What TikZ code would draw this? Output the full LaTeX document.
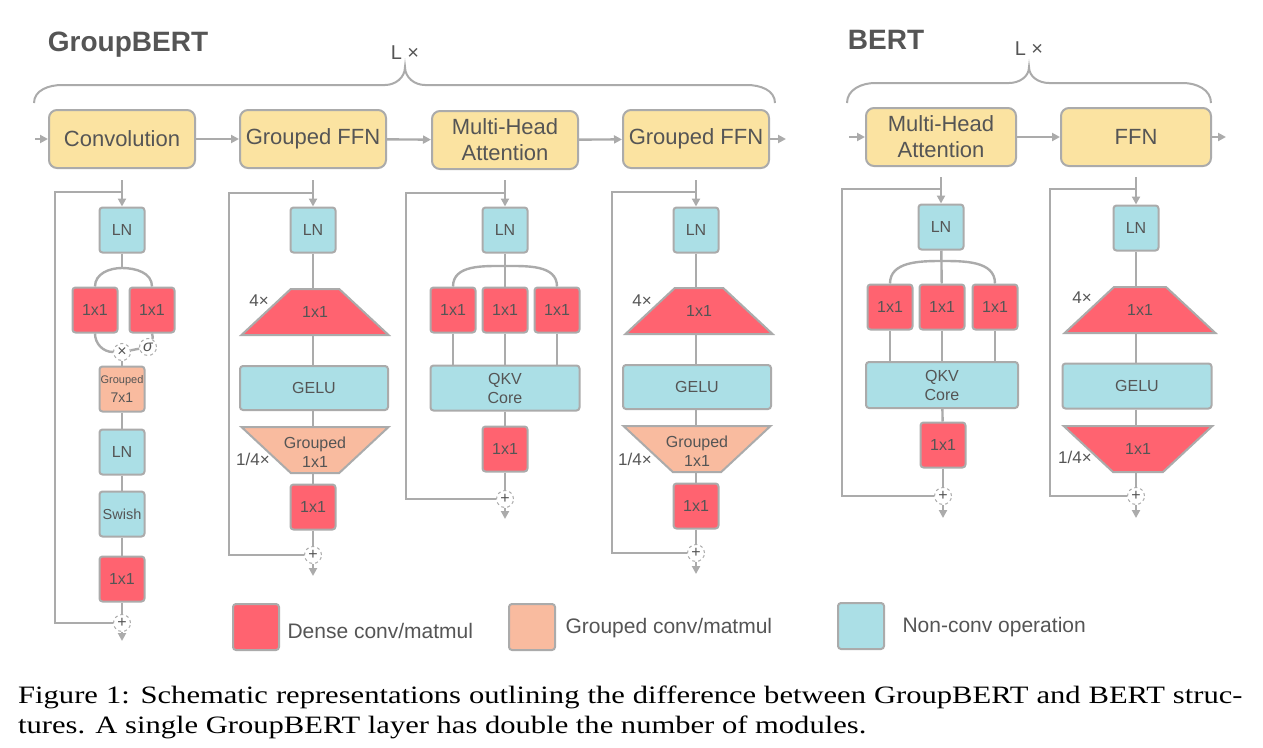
\documentclass[tikz,border=0pt]{standalone}
\usepackage{fontspec}
\setmainfont{Liberation Sans}
\newfontfamily\capfont{Liberation Serif}
\usetikzlibrary{positioning,shapes.geometric,arrows.meta,calc}

\definecolor{densered}{HTML}{FF6370}
\definecolor{grouppeach}{HTML}{F9BB9F}
\definecolor{plainblue}{HTML}{ABDFE6}
\definecolor{topyellow}{HTML}{FBE3A1}
\definecolor{linegray}{HTML}{ABABAB}
\definecolor{textgray}{HTML}{555555}

\newcommand\zw[1]{\makebox[0pt]{#1}}

\tikzset{
  wire/.style={draw=linegray, line width=2.4pt},
  arr/.style={wire, -{Triangle[length=8pt,width=8pt]}},
  topbox/.style={draw=linegray, line width=2pt, fill=topyellow, rounded corners=8pt,
    minimum width=146pt, minimum height=58pt, align=center, text=textgray,
    font=\fontsize{22}{26}\selectfont},
  opbox/.style={draw=linegray, line width=2pt, rounded corners=3pt, minimum width=45pt,
    minimum height=45pt, inner sep=0pt, align=center, text=textgray,
    font=\fontsize{16}{19}\selectfont},
  densebox/.style={opbox, fill=densered},
  groupbox/.style={opbox, fill=grouppeach},
  plainbox/.style={opbox, fill=plainblue},
  widebox/.style={minimum width=148pt},
  upbox/.style={trapezium, trapezium angle=43, draw=linegray, line width=2pt,
    inner xsep=24.2pt, inner ysep=17.25pt, text height=11.5pt, text depth=0pt,
    align=center, text=textgray, font=\fontsize{16}{19}\selectfont},
  downbox/.style={upbox, shape border rotate=180},
  twoline/.style={inner ysep=6pt, text height=34pt},
  junc/.style={circle, draw=linegray, dashed, line width=1pt, fill=white,
    minimum size=17pt, inner sep=0pt, text=textgray, font=\fontsize{16}{16}\selectfont},
  factor/.style={text=textgray, font=\fontsize{17}{17}\selectfont},
  title/.style={text=textgray, font=\fontsize{28}{30}\selectfont\bfseries},
  times/.style={text=textgray, font=\fontsize{20}{22}\selectfont},
  legtext/.style={text=textgray, font=\fontsize{21}{24}\selectfont, anchor=west},
  capline/.style={anchor=base west, inner sep=0pt, font=\capfont\fontsize{25}{30}\selectfont}
}

\begin{document}
\begin{tikzpicture}[x=1pt,y=-1pt]
  \useasboundingbox[fill=white] (0,0) rectangle (1263,747);

  % titles and braces
  \node[title] (gbert) at (128,45) {GroupBERT};
  \node[title] (bert) at (886,40) {BERT};
  \node[times] (rep1) at (405,53) {L ×};
  \node[times] (rep2) at (1029,49) {L ×};
  \draw[draw=linegray, line width=2pt] (34,103) to[out=90,in=180] (62,85) -- (385,85)
    to[out=0,in=-90] (405,67) to[out=-90,in=180] (425,85) -- (747,85)
    to[out=0,in=90] (775,103);
  \draw[draw=linegray, line width=2pt] (847,103) to[out=90,in=180] (875,83) -- (1009,83)
    to[out=0,in=-90] (1029,67) to[out=-90,in=180] (1049,83) -- (1183,83)
    to[out=0,in=90] (1211,103);

  % top row
  \coordinate (in1) at (35,139);
  \node[topbox] (conv) at (122,139) {Convolution};
  \node[topbox] (gffn1) at (313,139) {Grouped FFN};
  \node[topbox] (mha1) at (505,140) {Multi-Head\\Attention};
  \node[topbox] (gffn2) at (696,139) {Grouped FFN};
  \coordinate (out1) at (786,139);
  \draw[arr] (in1) -- (conv);
  \draw[arr] (conv) -- (gffn1);
  \draw[arr] (gffn1) -- (mha1);
  \draw[arr] (mha1) -- (gffn2);
  \draw[arr] (gffn2) -- (out1);

  \coordinate (in2) at (849,137);
  \node[topbox, minimum width=150pt] (mha2) at (941,137) {Multi-Head\\Attention};
  \node[topbox, minimum width=150pt] (ffn) at (1136,137) {FFN};
  \coordinate (out2) at (1226,137);
  \draw[arr] (in2) -- (mha2);
  \draw[arr] (mha2) -- (ffn);
  \draw[arr] (ffn) -- (out2);

  % convolution module
  \coordinate (t1) at (122,180);
  \coordinate (j1) at (122,192);
  \coordinate (k1) at (55,623);
  \coordinate (s1) at (122,268);
  \coordinate (e1) at (122,641);
  \node[plainbox] (ln1) at (122,230) {LN};
  \node[densebox] (ga1) at (95,310) {1x1};
  \node[densebox] (gb1) at (152,310) {1x1};
  \node[junc] (mul1) at (122,352) {×};
  \node[junc] (sig1) at (148,347) {\itshape σ};
  \node[groupbox] (gc1) at (122,389) {{\fontsize{11}{13}\selectfont Grouped}\\{\fontsize{14}{16}\selectfont 7x1}};
  \node[plainbox] (lnb1) at (122,452) {LN};
  \node[plainbox] (sw1) at (122,514) {\fontsize{14.5}{16}\selectfont Swish};
  \node[densebox] (pr1) at (122,579) {1x1};
  \node[junc] (add1) at (122,623) {+};
  \draw[arr] (t1) -- (ln1);
  \draw[wire] (j1) -| (k1) -- (add1);
  \draw[wire] (ln1) -- (s1);
  \draw[wire] (ga1.north) to[out=90,in=180] (s1) to[out=0,in=90] (gb1.north);
  \draw[wire] (ga1.south) to[out=-90,in=180] (mul1);
  \draw[wire] (gb1.south) to[out=-90,in=60] (sig1);
  \draw[wire] (sig1) -- (mul1);
  \draw[wire] (mul1) -- (gc1);
  \draw[wire] (gc1) -- (lnb1);
  \draw[wire] (lnb1) -- (sw1);
  \draw[wire] (sw1) -- (pr1);
  \draw[wire] (pr1) -- (add1);
  \draw[arr] (add1) -- (e1);

  % grouped FFN module
  \coordinate (t2) at (313,180);
  \coordinate (j2) at (313,193);
  \coordinate (k2) at (229,555);
  \coordinate (e2) at (313,576);
  \node[plainbox] (ln2) at (313,230) {LN};
  \node[upbox, fill=densered] (ex2) at (315,312) {\zw{1x1}};
  \node[plainbox, widebox, minimum height=44pt] (gelu2) at (314,388) {GELU};
  \node[downbox, twoline, fill=grouppeach] (sh2) at (315,450) {\zw{Grouped}\\\zw{1x1}};
  \node[densebox] (pr2) at (313,507) {1x1};
  \node[junc] (add2) at (313,555) {+};
  \node[factor] (up2) at (259,301) {4×};
  \node[factor] (dn2) at (253,459) {1/4×};
  \draw[arr] (t2) -- (ln2);
  \draw[wire] (j2) -| (k2) -- (add2);
  \draw[wire] (ln2) -- (ln2 |- ex2.north);
  \draw[wire] (ln2 |- ex2.south) -- (ln2 |- gelu2.north);
  \draw[wire] (ln2 |- gelu2.south) -- (ln2 |- sh2.north);
  \draw[wire] (ln2 |- sh2.south) -- (pr2);
  \draw[wire] (pr2) -- (add2);
  \draw[arr] (add2) -- (e2);

  % attention module
  \coordinate (t3) at (505,180);
  \coordinate (j3) at (505,193);
  \coordinate (k3) at (406,499);
  \coordinate (s3) at (505,266);
  \coordinate (e3) at (505,519);
  \node[plainbox] (ln3) at (505,230) {LN};
  \node[densebox] (qa3) at (453,310) {1x1};
  \node[densebox] (qb3) at (505,310) {1x1};
  \node[densebox] (qc3) at (557,310) {1x1};
  \node[plainbox, widebox, minimum width=149pt] (core3) at (505,388) {QKV\\Core};
  \node[densebox] (pr3) at (505,449) {1x1};
  \node[junc] (add3) at (505,499) {+};
  \draw[arr] (t3) -- (ln3);
  \draw[wire] (j3) -| (k3) -- (add3);
  \draw[wire] (ln3) -- (qb3);
  \draw[wire] (qa3.north) to[out=90,in=180] (s3) to[out=0,in=90] (qc3.north);
  \draw[wire] (qa3) -- (qa3 |- core3.north);
  \draw[wire] (qb3) -- (core3);
  \draw[wire] (qc3) -- (qc3 |- core3.north);
  \draw[wire] (core3) -- (pr3);
  \draw[wire] (pr3) -- (add3);
  \draw[arr] (add3) -- (e3);

  % second grouped FFN module
  \coordinate (t4) at (696,180);
  \coordinate (j4) at (696,192);
  \coordinate (k4) at (612,553);
  \coordinate (e4) at (696,574);
  \node[plainbox] (ln4) at (696,230) {LN};
  \node[upbox, fill=densered] (ex4) at (699,311) {\zw{1x1}};
  \node[plainbox, widebox, minimum height=44pt] (gelu4) at (697,387) {GELU};
  \node[downbox, twoline, fill=grouppeach] (sh4) at (697,449) {\zw{Grouped}\\\zw{1x1}};
  \node[densebox] (pr4) at (696,506) {1x1};
  \node[junc] (add4) at (696,553) {+};
  \node[factor] (up4) at (642,301) {4×};
  \node[factor] (dn4) at (635,459) {1/4×};
  \draw[arr] (t4) -- (ln4);
  \draw[wire] (j4) -| (k4) -- (add4);
  \draw[wire] (ln4) -- (ln4 |- ex4.north);
  \draw[wire] (ln4 |- ex4.south) -- (ln4 |- gelu4.north);
  \draw[wire] (ln4 |- gelu4.south) -- (ln4 |- sh4.north);
  \draw[wire] (ln4 |- sh4.south) -- (pr4);
  \draw[wire] (pr4) -- (add4);
  \draw[arr] (add4) -- (e4);

  % BERT attention module
  \coordinate (t5) at (941,177);
  \coordinate (j5) at (941,189);
  \coordinate (k5) at (842,496);
  \coordinate (s5) at (941,261);
  \coordinate (e5) at (943,518);
  \node[plainbox] (ln5) at (941,227) {LN};
  \node[densebox] (qa5) at (890,307) {1x1};
  \node[densebox] (qb5) at (942,307) {1x1};
  \node[densebox] (qc5) at (995,307) {1x1};
  \node[plainbox, widebox, minimum width=152pt, minimum height=46pt] (core5) at (942,385) {QKV\\Core};
  \node[densebox] (pr5) at (943,445) {1x1};
  \node[junc] (add5) at (943,496) {+};
  \draw[arr] (t5) -- (ln5);
  \draw[wire] (j5) -| (k5) -- (add5);
  \draw[wire] (ln5) -- (qb5);
  \draw[wire] (qa5.north) to[out=90,in=180] (s5) to[out=0,in=90] (qc5.north);
  \draw[wire] (qa5) -- (qa5 |- core5.north);
  \draw[wire] (qb5) -- (core5);
  \draw[wire] (qc5) -- (qc5 |- core5.north);
  \draw[wire] (core5) -- (pr5);
  \draw[wire] (pr5) -- (add5);
  \draw[arr] (add5) -- (e5);

  % BERT FFN module
  \coordinate (t6) at (1136,177);
  \coordinate (j6) at (1136,189);
  \coordinate (k6) at (1050,496);
  \coordinate (e6) at (1136,518);
  \node[plainbox] (ln6) at (1136,228) {LN};
  \node[upbox, fill=densered, inner xsep=26pt] (ex6) at (1140,310) {\zw{1x1}};
  \node[plainbox, widebox, minimum width=149pt] (gelu6) at (1137,386) {GELU};
  \node[downbox, fill=densered, inner xsep=25pt] (sh6) at (1138,449) {\zw{1x1}};
  \node[junc] (add6) at (1136,496) {+};
  \node[factor] (up6) at (1082,298) {4×};
  \node[factor] (dn6) at (1075,457) {1/4×};
  \draw[arr] (t6) -- (ln6);
  \draw[wire] (j6) -| (k6) -- (add6);
  \draw[wire] (ln6) -- (ln6 |- ex6.north);
  \draw[wire] (ln6 |- ex6.south) -- (ln6 |- gelu6.north);
  \draw[wire] (ln6 |- gelu6.south) -- (ln6 |- sh6.north);
  \draw[wire] (ln6 |- sh6.south) -- (add6);
  \draw[arr] (add6) -- (e6);

  % legend
  \node[densebox, minimum size=46pt] (leg1) at (256,627) {};
  \node[legtext] (legt1) at (284,631) {Dense conv/matmul};
  \node[groupbox, minimum size=46pt] (leg2) at (532,627) {};
  \node[legtext] (legt2) at (562,628) {Grouped conv/matmul};
  \node[plainbox, minimum size=46pt] (leg3) at (861,626) {};
  \node[legtext] (legt3) at (899,627) {Non-conv operation};

  % caption
  \node[capline] (cap1) at (18,703)
    {\scalebox{1.223}[1]{\makebox[1001pt][s]{Figure 1: Schematic representations outlining the difference between GroupBERT and BERT struc-}}};
  \node[capline] (cap2) at (18,733)
    {\scalebox{1.223}[1]{tures. A single GroupBERT layer has double the number of modules.}};
\end{tikzpicture}
\end{document}
